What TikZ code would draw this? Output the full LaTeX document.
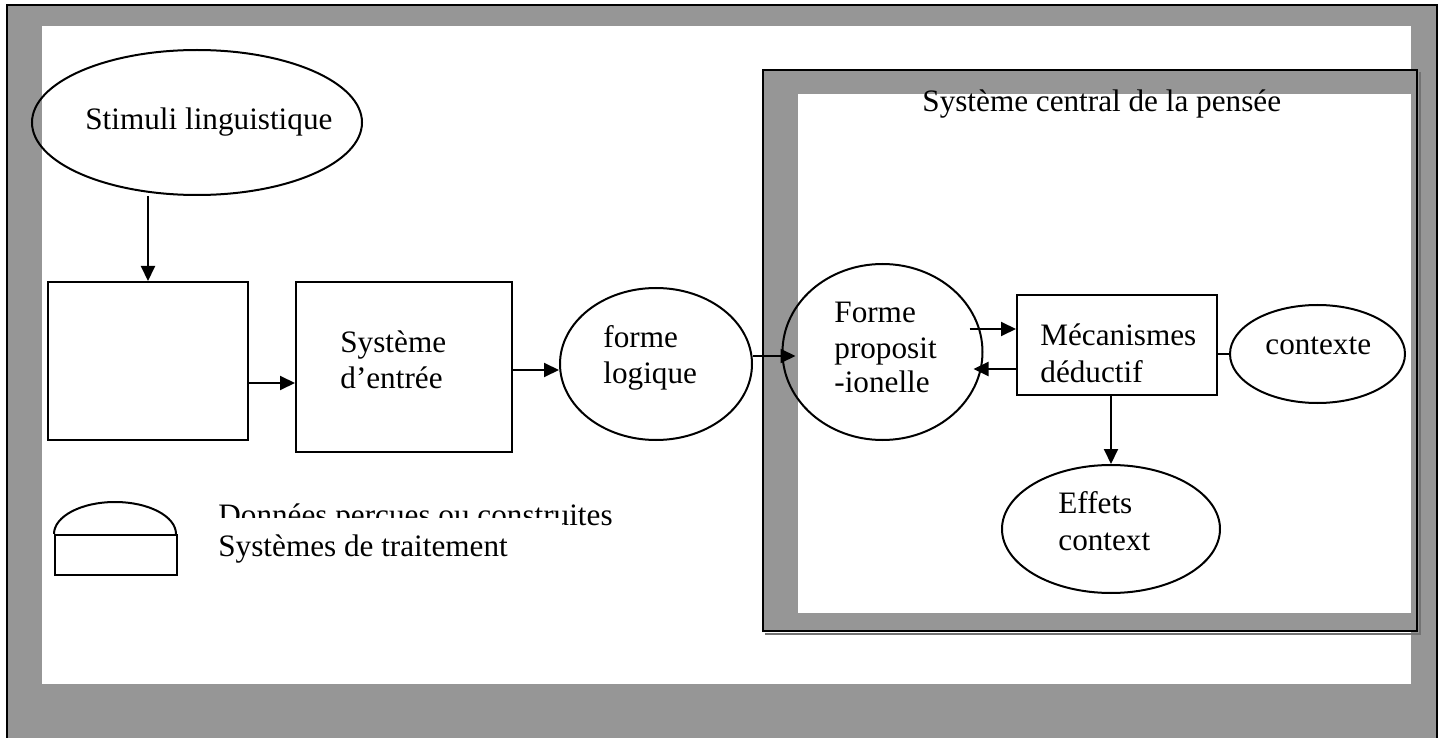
\documentclass[tikz,border=0pt]{standalone}
\usepackage{fontspec}
\setmainfont{Liberation Serif}
\usetikzlibrary{shapes.geometric,arrows.meta}
\definecolor{framegray}{HTML}{969696}
\begin{document}
\begin{tikzpicture}[x=0.5pt,y=-0.5pt,
  every node/.style={font=\fontsize{15.6}{18.5}\selectfont},
  line/.style={line width=1pt},
  arr/.style={line width=1pt,-{Triangle[length=7.5pt,width=7pt]}},
  oval/.style={draw,line width=1pt,ellipse,inner sep=0pt},
  box/.style={draw,line width=1pt,rectangle,inner sep=0pt},
  lbl/.style={anchor=base west,inner sep=0pt}]
\useasboundingbox (0,0) rectangle (1448,738);
% outer frame
\fill[framegray] (7,5) rectangle (1437,750);
\draw[line width=1.2pt] (7,750) -- (7,5) -- (1437,5) -- (1437,750);
\fill[white] (42,26) rectangle (1411,684);
% frame of the central system, with a thin shadow on the right and below
\fill[framegray] (763,70) rectangle (1417,631);
\draw[line width=0.6pt,black!55] (1420,72) -- (1420,634) -- (765,634);
\draw[line width=1.2pt] (763,70) rectangle (1417,631);
\fill[white] (798,94) rectangle (1411,613);
\node[lbl] (central) at (922,112) {Système central de la pensée};

% input chain
\node[oval,minimum width=165pt,minimum height=72.5pt] (stim) at (197,122.5) {};
\node[lbl] (stimtxt) at (85,130) {Stimuli linguistique};
\node[box,minimum width=100pt,minimum height=79pt] (percep) at (148,361) {};
\node[box,minimum width=108pt,minimum height=85pt] (entree) at (404,367) {};
\node[lbl] (entree1) at (340,352) {Système};
\node[lbl] (entree2) at (340,388) {d’entrée};
\node[oval,minimum width=96pt,minimum height=76pt] (fl) at (656,364) {};
\node[lbl] (fl1) at (603,348) {forme};
\node[lbl] (fl2) at (603,383) {logique};

% central system
\node[oval,minimum width=100pt,minimum height=88pt] (fp) at (882.5,352) {};
\node[lbl] (fp1) at (834,322) {Forme};
\node[lbl] (fp2) at (834,358) {proposit};
\node[lbl] (fp3) at (834,393) {-ionelle};
\node[box,minimum width=100pt,minimum height=50pt] (meca) at (1117,345) {};
\node[lbl] (meca1) at (1040,345) {Mécanismes};
\node[lbl] (meca2) at (1040,382) {déductif};
\node[oval,minimum width=87.5pt,minimum height=49pt] (ctx) at (1317.5,354) {};
\node[lbl] (ctx1) at (1265,355) {contexte};
\node[oval,minimum width=109pt,minimum height=64pt] (eff) at (1111,529) {};
\node[lbl] (eff1) at (1058,513) {Effets};
\node[lbl] (eff2) at (1058,550) {context};

% connectors
\draw[arr] (percep.north |- stim.south) -- (percep.north);
\draw[arr] ([yshift=-11pt]percep.east) -- ([yshift=-11pt]percep.east -| entree.west);
\draw[arr] ([yshift=-1.5pt]entree.east) -- ([yshift=-1.5pt]entree.east -| fl.west);
\coordinate (fpin) at ([xshift=7pt,yshift=-2pt]fp.west);
\draw[arr] (fl.east |- fpin) -- (fpin);
\coordinate (mecain) at ([yshift=8pt]meca.west);
\coordinate (fpr) at ([xshift=-7pt]fp.east);
\draw[arr] (fpr |- mecain) -- (mecain);
\coordinate (mecaout) at ([yshift=-12pt]meca.west);
\coordinate (fpback) at ([xshift=-5pt]fp.east);
\draw[arr] (mecaout) -- (fpback |- mecaout);
\draw[line] (meca.east |- ctx.west) -- (ctx.west);
\draw[arr] (eff.north |- meca.south) -- (eff.north);

% legend
\node[box,minimum width=61pt,minimum height=20pt] (legrect) at (116,555) {};
\draw[line] (legrect.north west) arc[start angle=180,end angle=0,x radius=30.5pt,y radius=16pt];
\node[lbl] (donnees) at (218,525) {Données perçues ou construites};
\fill[white] (210,518) rectangle (562,566);
\node[lbl] (systemes) at (218,556) {Systèmes de traitement};
\end{tikzpicture}
\end{document}
